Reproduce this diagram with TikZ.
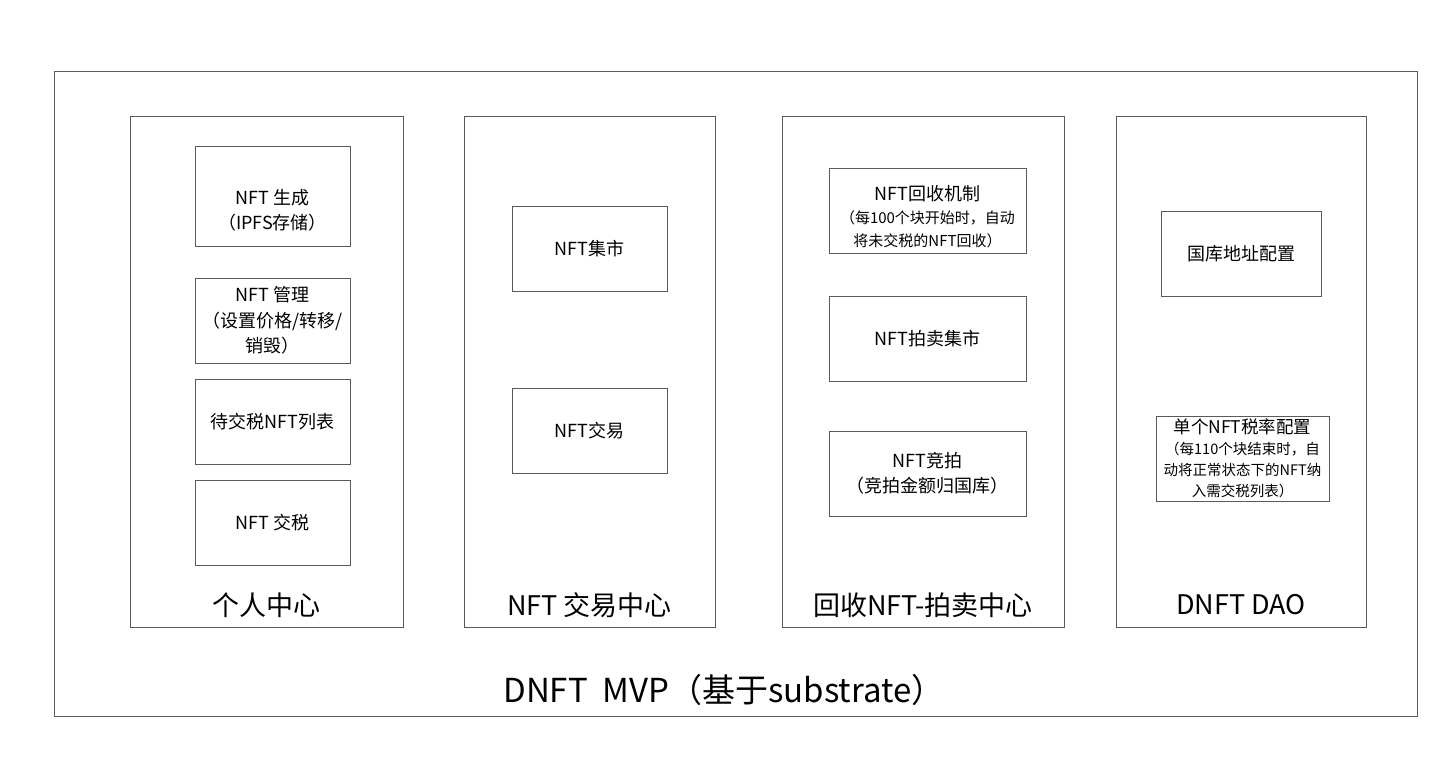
\documentclass[tikz,border=0pt]{standalone}
\usepackage{fontspec}
\setmainfont{Noto Sans CJK SC}
\definecolor{linec}{HTML}{5A5A5A}
\tikzset{
  box/.style={draw=linec, line width=0.9pt, rectangle, inner sep=0pt, align=center, font=\fontsize{18}{25.5}\selectfont},
  frame/.style={draw=linec, line width=0.9pt, rectangle, inner sep=0pt},
  coltitle/.style={font=\fontsize{27}{32}\selectfont, inner sep=0pt},
  smallbox/.style={box, font=\fontsize{15}{23}\selectfont}
}
\newcommand{\mybox}[6]{% name, x1, y1, x2, y2, text
  \node[box, minimum width={#4-#2}, minimum height={#5-#3}] (#1) at ({(#2+#4)/2},{-(#3+#5)/2}) {#6};}
\begin{document}
\begin{tikzpicture}[x=1pt,y=1pt]
\useasboundingbox (0,0) rectangle (1436,-778);
\node[frame, minimum width=1363, minimum height=645] (outer) at (735.5,-393.5) {};
\node[frame, minimum width=273, minimum height=511] (c1) at (266.5,-371.5) {};
\node[frame, minimum width=251, minimum height=511] (c2) at (589.5,-371.5) {};
\node[frame, minimum width=282, minimum height=511] (c3) at (923,-371.5) {};
\node[frame, minimum width=250, minimum height=511] (c4) at (1241,-371.5) {};
% column 1
\mybox{a1}{195}{146}{350}{246}{\strut\\NFT 生成\\（IPFS存储）}
\mybox{a2}{195}{278}{350}{363}{NFT 管理\\（设置价格/转移/\\销毁）}
\mybox{a3}{195}{379}{350}{464}{待交税NFT列表}
\mybox{a4}{195}{480}{350}{565}{NFT 交税}
% column 2
\mybox{b1}{512}{206}{667}{291}{NFT集市}
\mybox{b2}{512}{388}{667}{473}{NFT交易}
% column 3
\node[smallbox, minimum width=197, minimum height=85] (d1) at (927.5,-210.5) {\fontsize{18}{25}\selectfont\rule{0pt}{28pt}NFT回收机制\\（每100个块开始时，自动\\将未交税的NFT回收）};
\mybox{d2}{829}{296}{1026}{381}{NFT拍卖集市}
\mybox{d3}{829}{431}{1026}{516}{NFT竞拍\\（竞拍金额归国库）}
% column 4
\mybox{e1}{1161}{211}{1321}{296}{国库地址配置}
\node[smallbox, minimum width=173, minimum height=85, font=\fontsize{14.5}{21}\selectfont] (e2) at (1242.5,-458.5) {\fontsize{17.5}{23}\selectfont 单个NFT税率配置\\（每110个块结束时，自\\动将正常状态下的NFT纳\\入需交税列表）};
% titles
\node[coltitle] (t1) at (266.5,-605) {个人中心};
\node[coltitle] (t2) at (589.5,-605) {NFT 交易中心};
\node[coltitle] (t3) at (923,-605) {回收NFT-拍卖中心};
\node[coltitle] (t4) at (1241,-605) {DNFT DAO};
\node[font=\fontsize{33}{40}\selectfont, inner sep=0pt] (title) at (724,-690) {DNFT\ \ MVP（基于substrate）};
\end{tikzpicture}
\end{document}
